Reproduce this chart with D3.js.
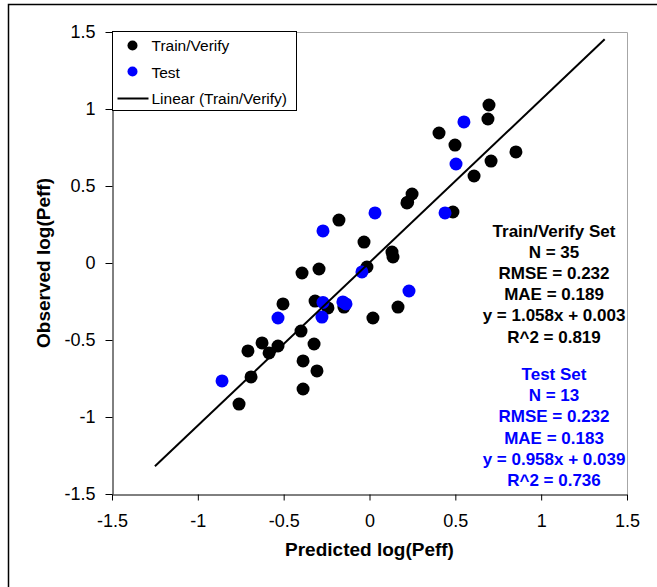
<!DOCTYPE html>
<html>
<head>
<meta charset="utf-8">
<script src="https://d3js.org/d3.v7.min.js"></script>
<style>
  body { margin: 0; background: #fff; }
  text { font-family: "Liberation Sans", Arial, sans-serif; }
</style>
</head>
<body>
<div id="chart"></div>
<script>
// train / verify set (predicted vs observed)
var trainPred = [0.696, 0.690, 0.405, 0.498, 0.853, 0.708, 0.609, 0.248, 0.218, 0.486,
                 -0.178, -0.032, 0.131, 0.137, -0.015, -0.393, -0.294, -0.504, -0.317, -0.242,
                 -0.149, 0.020, 0.166, -0.399, -0.626, -0.708, -0.585, -0.533, -0.323, -0.387,
                 -0.306, -0.690, -0.387, -0.760, 0.222];
var trainObs  = [1.026, 0.935, 0.844, 0.766, 0.721, 0.662, 0.565, 0.448, 0.390, 0.331,
                 0.279, 0.136, 0.071, 0.039, -0.026, -0.065, -0.039, -0.266, -0.247, -0.292,
                 -0.286, -0.357, -0.286, -0.442, -0.519, -0.571, -0.584, -0.539, -0.526, -0.636,
                 -0.701, -0.740, -0.818, -0.916, 0.395];

// test set
var testPred = [0.550, 0.504, 0.440, 0.032, -0.271, -0.044, 0.230, -0.533, -0.271, -0.155,
                -0.137, -0.277, -0.859];
var testObs  = [0.916, 0.643, 0.325, 0.325, 0.208, -0.058, -0.182, -0.357, -0.256, -0.253,
                -0.266, -0.351, -0.766];

var fitCoef = [1.058, 0.003];      // slope, intercept
var fitRange = [-1.25, 1.37];

var tickValues = [-1.5, -1, -0.5, 0, 0.5, 1, 1.5];

var trainStats = ["Train/Verify Set", "N = 35", "RMSE = 0.232", "MAE = 0.189", "y = 1.058x + 0.003", "R^2 = 0.819"];
var testStats  = ["Test Set", "N = 13", "RMSE = 0.232", "MAE = 0.183", "y = 0.958x + 0.039", "R^2 = 0.736"];

var legendLabels = ["Train/Verify", "Test", "Linear (Train/Verify)"];

var width = 657, height = 587;
var margin = {left: 112, right: 30, top: 32, bottom: 93};

var svg = d3.select('#chart').append('svg')
    .attr('width', width)
    .attr('height', height);

// outer frame
svg.append('path')
    .attr('d', 'M8.5,' + height + 'V4.5H' + width)
    .attr('fill', 'none')
    .attr('stroke', '#000')
    .attr('stroke-width', 1.5);

var x = d3.scaleLinear()
    .domain([-1.5, 1.5])
    .range([margin.left, width - margin.right]);

var y = d3.scaleLinear()
    .domain([-1.5, 1.5])
    .range([height - margin.bottom, margin.top]);

// plot area border (top / right in grey)
svg.append('path')
    .attr('d', 'M' + x(-1.5) + ',' + (y(1.5) + 0.5) + 'H' + (x(1.5) + 0.5) + 'V' + y(-1.5))
    .attr('fill', 'none')
    .attr('stroke', '#a6a6a6');

var xAxis = svg.append('g')
    .attr('transform', 'translate(0,' + (y(-1.5) + 0.5) + ')')
    .call(d3.axisBottom(x).tickValues(tickValues).tickSize(6).tickSizeOuter(0).tickPadding(14)
        .tickFormat(function(d) { return String(d); }));

var yAxis = svg.append('g')
    .attr('transform', 'translate(' + (x(-1.5) + 0.5) + ',0)')
    .call(d3.axisLeft(y).tickValues(tickValues).tickSize(7).tickSizeOuter(0).tickPadding(10)
        .tickFormat(function(d) { return String(d); }));

svg.selectAll('.domain').attr('stroke', '#000');
svg.selectAll('.tick line').attr('stroke', '#000');
svg.selectAll('.tick text')
    .attr('fill', '#000')
    .style('font-size', '18px');

svg.append('text')
    .attr('x', x(0))
    .attr('y', 556)
    .attr('text-anchor', 'middle')
    .style('font-size', '19px')
    .style('font-weight', 'bold')
    .text('Predicted log(Peff)');

svg.append('text')
    .attr('transform', 'translate(50,' + y(0) + ') rotate(-90)')
    .attr('text-anchor', 'middle')
    .style('font-size', '19px')
    .style('font-weight', 'bold')
    .text('Observed log(Peff)');

var trainData = trainPred.map(function(d, i) { return [d, trainObs[i]]; });
var testData = testPred.map(function(d, i) { return [d, testObs[i]]; });

svg.append('g').selectAll('circle')
    .data(trainData)
  .enter().append('circle')
    .attr('cx', function(d) { return x(d[0]); })
    .attr('cy', function(d) { return y(d[1]); })
    .attr('r', 6.5)
    .attr('fill', '#000');

svg.append('g').selectAll('circle')
    .data(testData)
  .enter().append('circle')
    .attr('cx', function(d) { return x(d[0]); })
    .attr('cy', function(d) { return y(d[1]); })
    .attr('r', 6.5)
    .attr('fill', '#0000ff');

svg.append('line')
    .attr('x1', x(fitRange[0]))
    .attr('y1', y(fitCoef[0] * fitRange[0] + fitCoef[1]))
    .attr('x2', x(fitRange[1]))
    .attr('y2', y(fitCoef[0] * fitRange[1] + fitCoef[1]))
    .attr('stroke', '#000')
    .attr('stroke-width', 2);

// stats text
svg.append('g').selectAll('text')
    .data(trainStats)
  .enter().append('text')
    .attr('x', 554)
    .attr('y', function(d, i) { return 237 + i * 21.1; })
    .attr('text-anchor', 'middle')
    .style('font-size', '17px')
    .style('font-weight', 'bold')
    .attr('fill', '#000')
    .text(function(d) { return d; });

svg.append('g').selectAll('text')
    .data(testStats)
  .enter().append('text')
    .attr('x', 554)
    .attr('y', function(d, i) { return 380 + i * 21.2; })
    .attr('text-anchor', 'middle')
    .style('font-size', '17px')
    .style('font-weight', 'bold')
    .attr('fill', '#0000ff')
    .text(function(d) { return d; });

// legend
var legend = svg.append('g')
    .attr('transform', 'translate(' + (x(-1.5) + 0.5) + ',' + (y(1.5) - 0.5) + ')');

legend.append('rect')
    .attr('width', 184)
    .attr('height', 79)
    .attr('fill', '#fff')
    .attr('stroke', '#000');

legend.append('circle').attr('cx', 20).attr('cy', 14).attr('r', 5).attr('fill', '#000');
legend.append('circle').attr('cx', 20).attr('cy', 40).attr('r', 5).attr('fill', '#0000ff');
legend.append('line')
    .attr('x1', 5).attr('x2', 36)
    .attr('y1', 67).attr('y2', 67)
    .attr('stroke', '#000')
    .attr('stroke-width', 2);

legend.selectAll('text.lbl')
    .data(legendLabels)
  .enter().append('text')
    .attr('class', 'lbl')
    .attr('x', 39)
    .attr('y', function(d, i) { return 19.5 + i * 26.5; })
    .style('font-size', '15.5px')
    .attr('fill', '#000')
    .text(function(d) { return d; });
</script>
</body>
</html>
